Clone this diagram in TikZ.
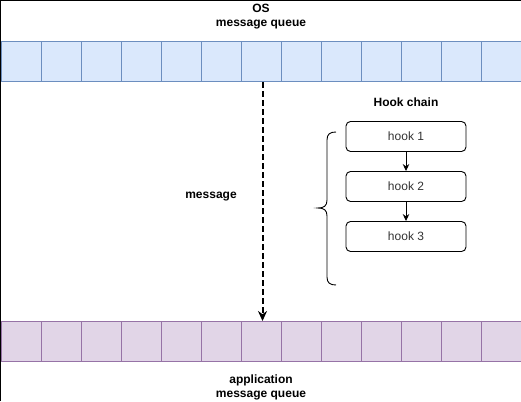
\documentclass[tikz,border=0pt]{standalone}
\usepackage{fontspec}
\setmainfont{Liberation Sans}
\usetikzlibrary{arrows.meta}
\definecolor{osfill}{HTML}{DAE8FC}
\definecolor{osdraw}{HTML}{6C8EBF}
\definecolor{appfill}{HTML}{E1D5E7}
\definecolor{appdraw}{HTML}{9673A6}
\definecolor{hooktext}{HTML}{333333}
\begin{document}
\begin{tikzpicture}[x=1pt,y=-1pt,
  cell/.style={draw, line width=1pt, minimum width=40pt, minimum height=40pt, inner sep=0pt, anchor=north west},
  oscell/.style={cell, fill=osfill, draw=osdraw},
  appcell/.style={cell, fill=appfill, draw=appdraw},
  hookbox/.style={draw, line width=0.9pt, rounded corners=4.5pt, minimum width=120pt, minimum height=30pt, inner sep=0pt, font=\fontsize{12}{14}\selectfont, text=hooktext},
  lbl/.style={font=\fontsize{12}{14}\selectfont\bfseries, align=center, inner sep=0pt},
  hookarrow/.style={line width=0.9pt, -{Stealth[length=7pt,width=6.5pt]}},
  msgarrow/.style={line width=2pt, dash pattern=on 6pt off 3pt, -{Stealth[length=10pt,width=9pt]}}
]
\useasboundingbox (0,0) rectangle (521,401);
\fill[white] (0,0) rectangle (521,401);
% frame edges
\draw[line width=1.5pt] (0.5,401) -- (0.5,0.5) -- (521,0.5);
% queues
\foreach \i in {1,...,13} {
  \node[oscell] (top\i) at ({1+40*(\i-1)},41) {};
  \node[appcell] (bot\i) at ({1+40*(\i-1)},321) {};
}
% labels
\node[lbl] (oslbl) at (261,17) {OS\\message queue};
\node[lbl] (applbl) at (261,387) {application\\message queue};
\node[lbl] (msglbl) at (211,197) {message};
\node[lbl] (hclbl) at (406,102) {Hook chain};
% hooks
\node[hookbox] (h1) at (406,136.5) {hook 1};
\node[hookbox] (h2) at (406,186.5) {hook 2};
\node[hookbox] (h3) at (406,236.5) {hook 3};
\draw[hookarrow] (h1) -- (h2);
\draw[hookarrow] (h2) -- (h3);
% brace
\draw[line width=0.9pt] (336,132) .. controls (330,132) and (327,134) .. (327,140) -- (327,200)
  .. controls (327,206) and (324,208) .. (318,208)
  .. controls (324,208) and (327,210) .. (327,216) -- (327,277)
  .. controls (327,283) and (330,285) .. (336,285);
% message arrow
\draw[msgarrow] ([xshift=1pt]top7.south) -- ([xshift=1pt]bot7.north);
\end{tikzpicture}
\end{document}
